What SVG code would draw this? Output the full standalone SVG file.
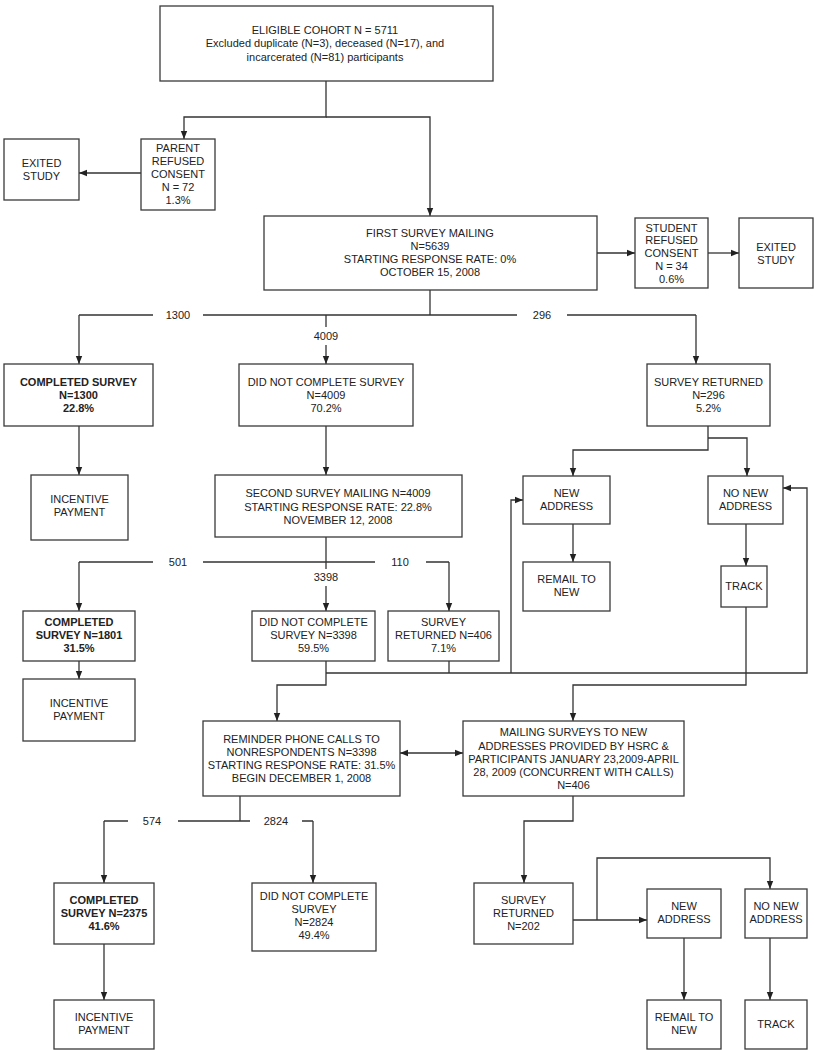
<svg xmlns="http://www.w3.org/2000/svg" width="814" height="1050" viewBox="0 0 814 1050">
<style>
.b{fill:#fff;stroke:#3a3a3a;stroke-width:1.3}
text{font-family:"Liberation Sans",Arial,sans-serif;font-size:11px;fill:#222;text-anchor:middle}
.bd{font-weight:bold}
.c path{fill:none;stroke:#333;stroke-width:1.3}
.c .a{marker-end:url(#ah)}
</style>
<defs>
<marker id="ah" viewBox="0 0 10 10" refX="10" refY="5" markerWidth="8" markerHeight="8" orient="auto-start-reverse" markerUnits="userSpaceOnUse"><path d="M0,1 L10,5 L0,9 z" fill="#222"/></marker>
</defs>
<rect width="814" height="1050" fill="#fff"/>

<g class="c" id="connectors">
<path d="M326,81 V117 H184 V139" class="a"/>
<path d="M326,117 H430 V216" class="a"/>
<path d="M141,173 H79" class="a"/>
<path d="M597,253 H635" class="a"/>
<path d="M708,253 H739" class="a"/>
<path d="M430,290 V315"/>
<path d="M79,315 H153 M203,315 H517 M567,315 H696"/>
<path d="M79,315 V364" class="a"/>
<path d="M696,315 V364" class="a"/>
<path d="M326,315 V327"/>
<path d="M326,345 V364" class="a"/>
<path d="M79,426 V475" class="a"/>
<path d="M326,426 V475" class="a"/>
<path d="M326,537 V569"/>
<path d="M79,562 H153 M203,562 H375 M426,562 H449"/>
<path d="M79,562 V611" class="a"/>
<path d="M449,562 V611" class="a"/>
<path d="M326,586 V611" class="a"/>
<path d="M79,661 V679" class="a"/>
<path d="M326,661 V685 H277 V721" class="a"/>
<path d="M326,673 H807 V488 H783" class="a"/>
<path d="M449,661 V673"/>
<path d="M511,673 V500 H523" class="a"/>
<path d="M708,426 V450 H573 V476" class="a"/>
<path d="M708,438 H747 V476" class="a"/>
<path d="M573,524 V562" class="a"/>
<path d="M746,524 V566" class="a"/>
<path d="M746,607 V685 H573 V721" class="a"/>
<path d="M400,753 H463" class="a" marker-start="url(#ah)"/>
<path d="M240,796 V821"/>
<path d="M104,821 H128 M178,821 H250 M302,821 H313"/>
<path d="M104,821 V883" class="a"/>
<path d="M313,821 V883" class="a"/>
<path d="M104,944 V1000" class="a"/>
<path d="M573,796 V821 H524 V883" class="a"/>
<path d="M573,920 H647" class="a"/>
<path d="M597,920 V858 H770 V889" class="a"/>
<path d="M684,938 V1000" class="a"/>
<path d="M770,938 V1000" class="a"/>
<text x="178" y="319">1300</text>
<text x="326" y="340">4009</text>
<text x="542" y="319">296</text>
<text x="178" y="566">501</text>
<text x="400" y="566">110</text>
<text x="326" y="581">3398</text>
<text x="152" y="825">574</text>
<text x="276" y="825">2824</text>
</g>

<g id="eligible"><rect class="b" x="160" y="6" width="333" height="75"/>
<text x="325" y="34">ELIGIBLE COHORT N = 5711</text>
<text x="325" y="47">Excluded duplicate (N=3), deceased (N=17), and</text>
<text x="325" y="61">incarcerated (N=81) participants</text></g>

<g id="parent-refused"><rect class="b" x="141" y="139" width="74" height="71"/>
<text x="178" y="152">PARENT</text><text x="178" y="165">REFUSED</text><text x="178" y="178">CONSENT</text><text x="178" y="191">N = 72</text><text x="178" y="204">1.3%</text></g>

<g id="exited1"><rect class="b" x="4" y="139" width="75" height="61"/>
<text x="41.5" y="167">EXITED</text><text x="41.5" y="180">STUDY</text></g>

<g id="first-mailing"><rect class="b" x="264" y="216" width="333" height="74"/>
<text x="430" y="237">FIRST SURVEY MAILING</text><text x="430" y="250">N=5639</text><text x="430" y="263">STARTING RESPONSE RATE: 0%</text><text x="430" y="276">OCTOBER 15, 2008</text></g>

<g id="student-refused"><rect class="b" x="635" y="218" width="73" height="70"/>
<text x="671.5" y="232">STUDENT</text><text x="671.5" y="244">REFUSED</text><text x="671.5" y="257">CONSENT</text><text x="671.5" y="270">N = 34</text><text x="671.5" y="283">0.6%</text></g>

<g id="exited2"><rect class="b" x="739" y="218" width="74" height="70"/>
<text x="776" y="251">EXITED</text><text x="776" y="264">STUDY</text></g>

<g id="completed1"><rect class="b" x="4" y="364" width="149" height="62"/>
<text class="bd" x="78.5" y="386">COMPLETED SURVEY</text><text class="bd" x="78.5" y="399">N=1300</text><text class="bd" x="78.5" y="412">22.8%</text></g>

<g id="incentive1"><rect class="b" x="31" y="475" width="97" height="65"/>
<text x="79.5" y="503">INCENTIVE</text><text x="79.5" y="516">PAYMENT</text></g>

<g id="dnc1"><rect class="b" x="239" y="364" width="174" height="62"/>
<text x="326" y="386">DID NOT COMPLETE SURVEY</text><text x="326" y="399">N=4009</text><text x="326" y="412">70.2%</text></g>

<g id="second-mailing"><rect class="b" x="215" y="475" width="247" height="62"/>
<text x="338" y="497">SECOND SURVEY MAILING N=4009</text><text x="338" y="511">STARTING RESPONSE RATE: 22.8%</text><text x="338" y="524">NOVEMBER 12, 2008</text></g>

<g id="returned1"><rect class="b" x="647" y="364" width="123" height="62"/>
<text x="708.5" y="386">SURVEY RETURNED</text><text x="708.5" y="399">N=296</text><text x="708.5" y="412">5.2%</text></g>

<g id="new-address1"><rect class="b" x="523" y="476" width="87" height="48"/>
<text x="566.5" y="497">NEW</text><text x="566.5" y="510">ADDRESS</text></g>

<g id="remail1"><rect class="b" x="523" y="562" width="87" height="49"/>
<text x="566.5" y="583">REMAIL TO</text><text x="566.5" y="596">NEW</text></g>

<g id="no-new-address1"><rect class="b" x="708" y="476" width="75" height="48"/>
<text x="745.5" y="497">NO NEW</text><text x="745.5" y="510">ADDRESS</text></g>

<g id="track1"><rect class="b" x="721" y="566" width="46" height="41"/>
<text x="744" y="590">TRACK</text></g>

<g id="completed2"><rect class="b" x="23" y="611" width="112" height="50"/>
<text class="bd" x="79" y="626">COMPLETED</text><text class="bd" x="79" y="639">SURVEY N=1801</text><text class="bd" x="79" y="652">31.5%</text></g>

<g id="incentive2"><rect class="b" x="23" y="679" width="112" height="62"/>
<text x="79" y="707">INCENTIVE</text><text x="79" y="720">PAYMENT</text></g>

<g id="dnc2"><rect class="b" x="252" y="611" width="123" height="50"/>
<text x="313.5" y="626">DID NOT COMPLETE</text><text x="313.5" y="639">SURVEY N=3398</text><text x="313.5" y="652">59.5%</text></g>

<g id="returned2"><rect class="b" x="388" y="611" width="111" height="50"/>
<text x="443.5" y="626">SURVEY</text><text x="443.5" y="639">RETURNED N=406</text><text x="443.5" y="652">7.1%</text></g>

<g id="reminder"><rect class="b" x="203" y="721" width="197" height="75"/>
<text x="301.5" y="743">REMINDER PHONE CALLS TO</text><text x="301.5" y="756">NONRESPONDENTS N=3398</text><text x="301.5" y="769">STARTING RESPONSE RATE: 31.5%</text><text x="301.5" y="782">BEGIN DECEMBER 1, 2008</text></g>

<g id="mailing-new"><rect class="b" x="463" y="721" width="221" height="75"/>
<text x="573.5" y="736">MAILING SURVEYS TO NEW</text><text x="573.5" y="750">ADDRESSES PROVIDED BY HSRC &amp;</text><text x="573.5" y="763">PARTICIPANTS JANUARY 23,2009-APRIL</text><text x="573.5" y="776">28, 2009 (CONCURRENT WITH CALLS)</text><text x="573.5" y="789">N=406</text></g>

<g id="completed3"><rect class="b" x="54" y="883" width="100" height="61"/>
<text class="bd" x="104" y="904">COMPLETED</text><text class="bd" x="104" y="917">SURVEY N=2375</text><text class="bd" x="104" y="930">41.6%</text></g>

<g id="incentive3"><rect class="b" x="54" y="1000" width="100" height="49"/>
<text x="104" y="1021">INCENTIVE</text><text x="104" y="1034">PAYMENT</text></g>

<g id="dnc3"><rect class="b" x="252" y="883" width="124" height="68"/>
<text x="314" y="900">DID NOT COMPLETE</text><text x="314" y="913">SURVEY</text><text x="314" y="926">N=2824</text><text x="314" y="939">49.4%</text></g>

<g id="returned3"><rect class="b" x="474" y="883" width="99" height="61"/>
<text x="523.5" y="904">SURVEY</text><text x="523.5" y="917">RETURNED</text><text x="523.5" y="930">N=202</text></g>

<g id="new-address2"><rect class="b" x="647" y="889" width="74" height="49"/>
<text x="684" y="910">NEW</text><text x="684" y="923">ADDRESS</text></g>

<g id="remail2"><rect class="b" x="647" y="1000" width="74" height="49"/>
<text x="684" y="1021">REMAIL TO</text><text x="684" y="1034">NEW</text></g>

<g id="no-new-address2"><rect class="b" x="745" y="889" width="62" height="49"/>
<text x="776" y="910">NO NEW</text><text x="776" y="923">ADDRESS</text></g>

<g id="track2"><rect class="b" x="745" y="1000" width="62" height="49"/>
<text x="776" y="1028">TRACK</text></g>
</svg>
